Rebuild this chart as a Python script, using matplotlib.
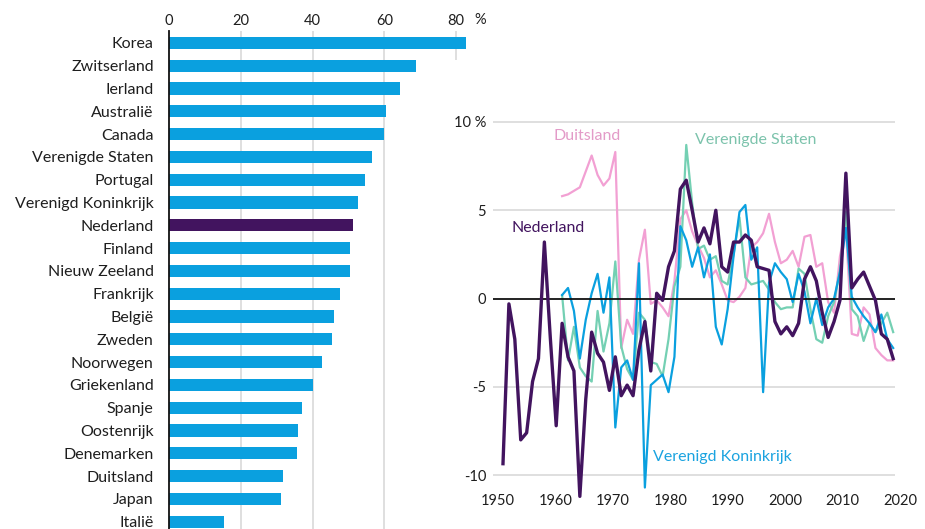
import matplotlib.pyplot as plt
import numpy as np

plt.rcParams['font.family'] = ['Lato', 'DejaVu Sans']

# left panel: share per country (%)
countries = ['Korea', 'Zwitserland', 'Ierland', 'Australië', 'Canada',
             'Verenigde Staten', 'Portugal', 'Verenigd Koninkrijk', 'Nederland',
             'Finland', 'Nieuw Zeeland', 'Frankrijk', 'België', 'Zweden',
             'Noorwegen', 'Griekenland', 'Spanje', 'Oostenrijk', 'Denemarken',
             'Duitsland', 'Japan', 'Italië']
shares = [82.9, 68.7, 64.3, 60.6, 59.9, 56.5, 54.5, 52.8, 51.2, 50.4, 50.4,
          47.6, 46.0, 45.4, 42.6, 40.2, 37.0, 35.9, 35.6, 31.7, 31.2, 15.2]
bar_ticks = [0, 20, 40, 60, 80]

# right panel: yearly series (%)
years_nl = np.arange(1951, 2018)
years_oth = np.arange(1961, 2018)

nederland = [-9.35, -0.3, -2.3, -8.0, -7.6, -4.7, -3.4, 3.2, -2.2, -7.2,
             -1.4, -3.3, -4.1, -11.2, -5.7, -1.9, -3.1, -3.6, -5.2, -3.3,
             -5.5, -4.9, -5.5, -2.9, -1.3, -4.1, 0.3, -0.1, 1.8, 2.7,
             6.2, 6.7, 5.0, 3.2, 4.0, 3.1, 5.0, 1.8, 1.5, 3.2,
             3.2, 3.6, 3.3, 1.8, 1.7, 1.6, -1.3, -2.0, -1.6, -2.1,
             -1.4, 1.1, 1.8, 1.0, -0.8, -2.2, -1.3, -0.1, 7.1, 0.6,
             1.1, 1.5, 0.7, -0.1, -2.0, -2.3, -3.4]

duitsland = [5.8, 5.9, 6.1, 6.3, 7.2, 8.1, 7.0, 6.4, 6.8, 8.3,
             -2.8, -1.2, -2.0, 2.2, 3.9, -0.3, -0.1, -0.5, -1.0, 1.0,
             4.5, 5.0, 3.8, 3.0, 2.3, 1.2, 1.6, 0.8, -0.1, -0.2,
             0.1, 0.6, 2.9, 3.2, 3.7, 4.8, 3.2, 2.0, 2.2, 2.7,
             1.8, 3.5, 3.6, 1.8, 2.0, -0.2, -0.8, 2.4, 4.0, -2.0,
             -2.1, -0.5, -0.9, -2.8, -3.2, -3.5, -3.5]

ver_staten = [0.2, -3.5, -1.6, -3.9, -4.4, -4.7, -0.7, -3.0, -1.4, 2.1,
              -2.7, -4.0, -4.6, -0.8, -1.2, -3.6, -3.7, -4.4, -2.3, 0.7,
              1.8, 8.7, 5.4, 2.8, 3.0, 2.2, 2.4, 1.0, 0.8, 2.5,
              4.6, 1.2, 0.8, 0.9, 1.0, 0.5, -0.2, -0.6, -0.5, -0.5,
              1.7, 1.4, -0.6, -2.3, -2.5, -1.0, -0.2, 1.6, 4.9, -0.6,
              -1.0, -2.4, -1.4, -1.9, -1.4, -0.8, -1.9]

ver_koninkrijk = [0.2, 0.6, -0.7, -3.4, -1.2, 0.3, 1.4, -0.8, 1.2, -7.3,
                  -3.9, -3.5, -4.6, 2.0, -10.7, -4.9, -4.6, -4.3, -5.3, -3.3,
                  4.1, 3.3, 1.8, 2.9, 1.2, 2.5, -1.6, -2.6, -0.6, 2.4,
                  4.9, 5.3, 2.2, 2.9, -5.3, 0.9, 2.0, 1.5, 1.1, -0.2,
                  1.4, 0.4, -1.4, 0.0, -1.5, -0.5, 0.0, 1.5, 4.0, 0.1,
                  -0.5, -1.0, -1.4, -1.9, -0.9, -2.3, -2.8]

decade_labels = ['1950', '1960', '1970', '1980', '1990', '2000', '2010', '2020']

BLUE = '#0aa0df'
PURPLE = '#42145f'
PINK = '#f2a0d3'
GREEN = '#74d0b3'
GRID = '#dcdcdc'
TEXT = '#1e1e1e'

W, H = 925, 529


def px_rect(l, t, r, b):
    return [l / W, 1 - b / H, (r - l) / W, (b - t) / H]


fig = plt.figure(figsize=(W / 100, H / 100), dpi=100)

# ---- bar chart ----
ax1 = fig.add_axes(px_rect(169, 31, 474, 529))
ypos = np.arange(len(countries))
bar_colors = [PURPLE if c == 'Nederland' else BLUE for c in countries]
ax1.barh(ypos, shares, height=0.54, color=bar_colors, zorder=2)
ax1.set_xlim(0, 85)
ax1.set_ylim(21.32, -0.52)
for t in bar_ticks[1:-1]:
    ax1.vlines(t, -0.52, 21.32, color=GRID, lw=1.3, zorder=0)
ax1.vlines(bar_ticks[-1], -0.52, 0.75, color=GRID, lw=1.3, zorder=0)
ax1.xaxis.tick_top()
ax1.set_xticks(bar_ticks)
ax1.tick_params(axis='x', length=0, pad=2, labelsize=10.5, labelcolor=TEXT)
ax1.set_yticks(ypos)
ax1.set_yticklabels(countries)
ax1.tick_params(axis='y', length=0, pad=11, labelsize=11.5, labelcolor=TEXT)
for s in ['top', 'right', 'bottom']:
    ax1.spines[s].set_visible(False)
ax1.spines['left'].set_color('#111111')
ax1.spines['left'].set_linewidth(1.3)
fig.text(474 / W, 1 - 20 / H, '%', fontsize=10.5, color=TEXT, va='center')

# ---- line chart ----
ax2 = fig.add_axes(px_rect(493, 120.2, 905, 484))
ax2.set_facecolor('none')
x0, x1 = 1949.31, 2017.33
ax2.set_xlim(x0, 2019.0)
ax2.set_ylim(-10.5, 10.1)
ax2.hlines([-10, -5, 5, 10], x0, x1, color=GRID, lw=1.3, zorder=0)

ax2.plot(years_oth, duitsland, color=PINK, lw=1.6, clip_on=False, zorder=2)
ax2.plot(years_oth, ver_staten, color=GREEN, lw=1.6, clip_on=False, zorder=2)
ax2.plot(years_oth, ver_koninkrijk, color=BLUE, lw=1.6, clip_on=False, zorder=2)
ax2.hlines(0, x0, x1, color='#111111', lw=1.3, zorder=3)
ax2.plot(years_nl, nederland, color=PURPLE, lw=2.4, clip_on=False, zorder=4)

ax2.text(1959.5, 9.2, 'Duitsland', color='#e39bc8', fontsize=11.5, va='center')
ax2.text(1952.5, 4.0, 'Nederland', color=PURPLE, fontsize=11.5, va='center')
ax2.text(1983.5, 9.0, 'Verenigde Staten', color='#7cc3ac', fontsize=11.5, va='center')
ax2.text(1976.4, -8.95, 'Verenigd Koninkrijk', color='#1aa3e0', fontsize=11.5, va='center')

# decade labels sit evenly along the axis width
ax2.set_xticks(np.linspace(1950.16, 2018.2, len(decade_labels)))
ax2.set_xticklabels(decade_labels)
ax2.set_yticks([-10, -5, 0, 5, 10])
ax2.set_yticklabels(['-10', '-5', '0', '5', '10 %'])
ax2.tick_params(axis='x', length=0, pad=7, labelsize=10.5, labelcolor=TEXT)
ax2.tick_params(axis='y', length=0, pad=5, labelsize=10.5, labelcolor=TEXT)
for s in ax2.spines.values():
    s.set_visible(False)

fig.savefig('out.png', dpi=100)
